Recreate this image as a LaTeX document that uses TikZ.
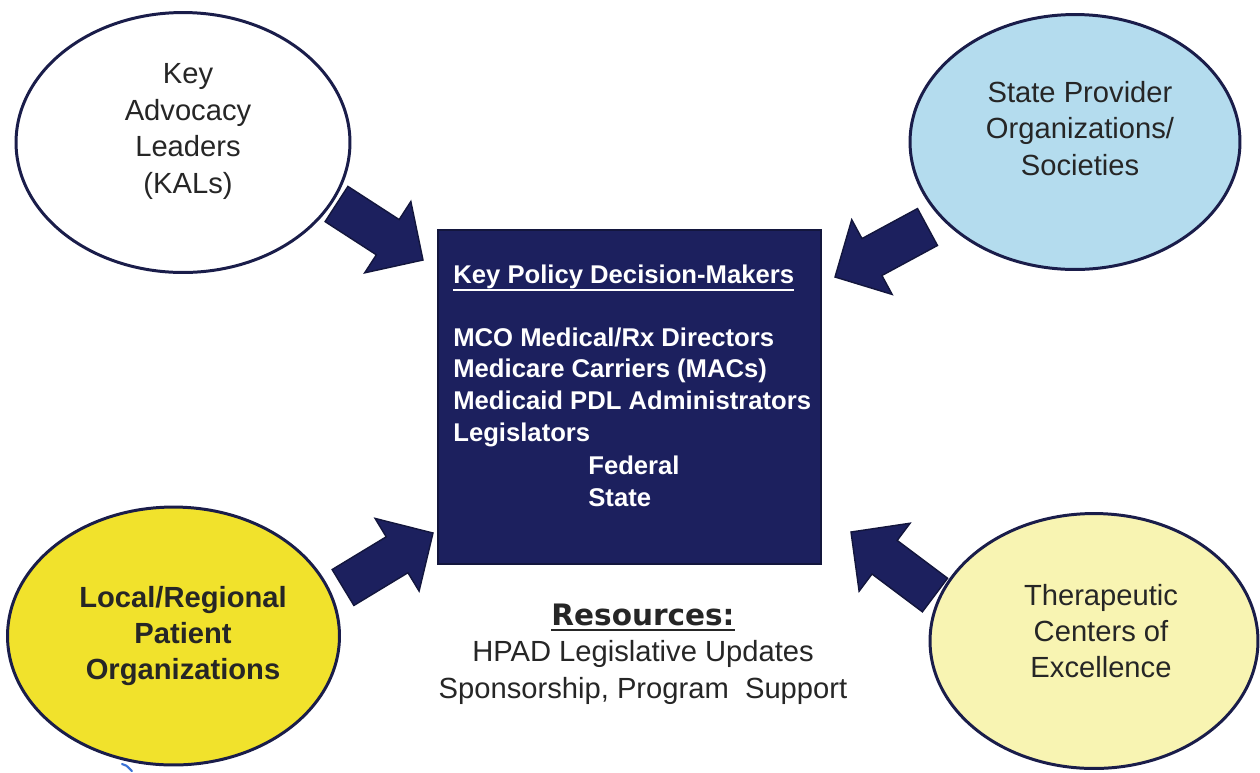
\documentclass[tikz,border=0pt]{standalone}
\usepackage{fontspec}
\setmainfont{Liberation Sans}
\newfontfamily\resfont{DejaVu Sans}
\usetikzlibrary{shapes.geometric,calc}

\definecolor{navy}{HTML}{1C205E}
\definecolor{navyedge}{HTML}{13163D}
\definecolor{ringline}{HTML}{1A1D4A}
\definecolor{skyfill}{HTML}{B4DCEE}
\definecolor{goldfill}{HTML}{F1E22C}
\definecolor{creamfill}{HTML}{F8F4B2}
\definecolor{inkgray}{HTML}{262626}
\definecolor{straymark}{HTML}{3A72D6}

% block arrow from a tail coordinate to a tip coordinate
\newcommand\inflow[2]{%
  \coordinate (#1-#2-base) at ($(#2)!0.84cm!(#1)$);
  \filldraw[flowarrow]
    ($(#1)!0.42cm!90:(#2)$) -- ($(#1-#2-base)!0.42cm!90:(#2)$)
    -- ($(#1-#2-base)!0.85cm!90:(#2)$) -- (#2)
    -- ($(#1-#2-base)!0.85cm!-90:(#2)$) -- ($(#1-#2-base)!0.42cm!-90:(#2)$)
    -- ($(#1)!0.42cm!-90:(#2)$) -- cycle;}

\tikzset{
  ring/.style={ellipse, draw=ringline, line width=1.7pt, inner sep=0pt},
  ringtext/.style={anchor=base, inner sep=0pt, text=inkgray,
    font=\fontsize{16.6}{20}\selectfont},
  boxtext/.style={anchor=base west, inner sep=0pt, text=white,
    font=\bfseries\fontsize{14.6}{18}\selectfont},
  restext/.style={anchor=base, inner sep=0pt, text=inkgray,
    font=\fontsize{16.6}{20}\selectfont},
  flowarrow/.style={fill=navy, draw=navyedge, line width=0.8pt, line join=miter},
}

\begin{document}
\begin{tikzpicture}[x=0.02cm, y=-0.02cm]
\useasboundingbox (0,0) rectangle (1260,772);
\fill[white] (0,0) rectangle (1260,772);

% outer circles
\node[ring, fill=white, minimum width=6.68cm, minimum height=5.20cm] (kal) at (183,142.5) {};
\node[ring, fill=skyfill, minimum width=6.60cm, minimum height=5.10cm] (spo) at (1075,142) {};
\node[ring, fill=goldfill, minimum width=6.64cm, minimum height=5.16cm] (lrp) at (173.5,636) {};
\node[ring, fill=creamfill, minimum width=6.56cm, minimum height=5.10cm] (tce) at (1094,641) {};

% central box
\node[draw=navyedge, fill=navy, line width=1.2pt, inner sep=0pt, anchor=north west,
      minimum width=7.66cm, minimum height=6.68cm] (kpdm) at (437,229) {};

% circle labels
\node[ringtext] (kal-1) at (188,83.5) {Key};
\node[ringtext] (kal-2) at (188,120) {Advocacy};
\node[ringtext] (kal-3) at (188,156.5) {Leaders};
\node[ringtext] (kal-4) at (188,193) {(KALs)};

\node[ringtext] (spo-1) at (1080,102) {State Provider};
\node[ringtext] (spo-2) at (1080,138.5) {Organizations/};
\node[ringtext] (spo-3) at (1080,175) {Societies};

\node[ringtext, font=\bfseries\fontsize{16.6}{20}\selectfont] (lrp-1) at (183,607) {Local/Regional};
\node[ringtext, font=\bfseries\fontsize{16.6}{20}\selectfont] (lrp-2) at (183,643) {Patient};
\node[ringtext, font=\bfseries\fontsize{16.6}{20}\selectfont] (lrp-3) at (183,679) {Organizations};

\node[ringtext] (tce-1) at (1101,605) {Therapeutic};
\node[ringtext] (tce-2) at (1101,641) {Centers of};
\node[ringtext] (tce-3) at (1101,677) {Excellence};

% box contents
\node[boxtext] (kpdm-title) at (453,283) {Key Policy Decision-Makers};
\draw[white, line width=1.1pt] ([yshift=-4pt]kpdm-title.base west) -- ([yshift=-4pt]kpdm-title.base east);
\node[boxtext] (kpdm-1) at (453,346) {MCO Medical/Rx Directors};
\node[boxtext] (kpdm-2) at (453,377) {Medicare Carriers (MACs)};
\node[boxtext] (kpdm-3) at (453,409) {Medicaid PDL Administrators};
\node[boxtext] (kpdm-4) at (453,441) {Legislators};
\node[boxtext] (kpdm-5) at (588,474) {Federal};
\node[boxtext] (kpdm-6) at (588,506) {State};

% resources
\node[restext, font=\resfont\bfseries\fontsize{16.8}{20}\selectfont] (res-head) at (643,625) {Resources:};
\draw[inkgray, line width=1.1pt] ([yshift=-2.8pt]res-head.base west) -- ([yshift=-2.8pt]res-head.base east);
\node[restext] (res-1) at (643,661.5) {HPAD Legislative Updates};
\node[restext] (res-2) at (643,698.5) {Sponsorship, Program\ \ Support};

% arrows into the box
\coordinate (kal-out) at (336.5,204);  \coordinate (kal-in) at (423,260);
\coordinate (spo-out) at (927.5,227);  \coordinate (spo-in) at (835,277);
\coordinate (lrp-out) at (343,587.5);  \coordinate (lrp-in) at (433,533);
\coordinate (tce-out) at (935,595);    \coordinate (tce-in) at (851,532);
\inflow{kal-out}{kal-in}
\inflow{spo-out}{spo-in}
\inflow{lrp-out}{lrp-in}
\inflow{tce-out}{tce-in}

% small pen mark below the yellow circle
\draw[straymark, line width=1.2pt, line cap=round] (122,764) .. controls (126,765) .. (132,771);
\end{tikzpicture}
\end{document}
